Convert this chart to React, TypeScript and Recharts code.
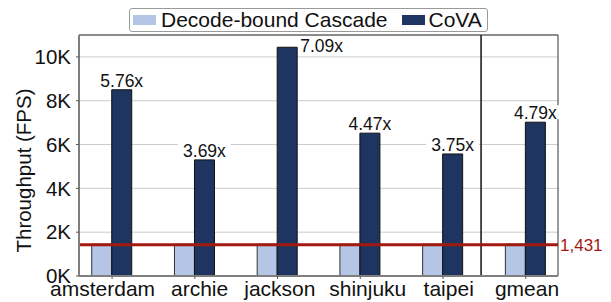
import React from 'react';
import { BarChart, Bar, XAxis, YAxis, CartesianGrid, ReferenceLine, LabelList, Legend } from 'recharts';

const categories = ['amsterdam', 'archie', 'jackson', 'shinjuku', 'taipei', 'gmean'];
const decodeBound = [1450, 1450, 1450, 1450, 1450, 1450];
const cova = [8500, 5300, 10440, 6520, 5570, 7020];
const speedups = ['5.76x', '3.69x', '7.09x', '4.47x', '3.75x', '4.79x'];
const yTicks = [0, 2000, 4000, 6000, 8000, 10000];
const seriesNames = ['Decode-bound Cascade', 'CoVA'];
const baselineValue = 1431;
const baselineLabel = '1,431';
const separatorAt = 4.46;
const xDomain = [-0.4, 5.39];
const yDomain = [0, 11000];

// small horizontal nudges of category labels (style only)
const tickNudge = [-9.5, 4.8, 2.3, 7.5, 5.7, 1.3];

const LIGHT = '#b4c5e6';
const DARK = '#1e3561';
const RED = '#a2190f';
const FONT = '"Liberation Sans", Arial, Helvetica, sans-serif';
const M = { top: 35, right: 53, bottom: 0, left: 0 };

const data = categories.map((c, i) => ({
  idx: i,
  name: c,
  decode: decodeBound[i],
  cova: cova[i],
  speedup: speedups[i],
}));

const renderSpeedup = (props: any) => {
  const x = Number(props.x);
  const y = Number(props.y);
  const width = Number(props.width);
  const value = String(props.value);
  const fs = 17.5;
  const w = value.length * fs * 0.49;
  if (y - fs - 4 < M.top) {
    return (
      <text x={x + width + 3} y={y - 1.5} fontSize={fs} fontFamily={FONT} fill="#111" dominantBaseline="central">
        {value}
      </text>
    );
  }
  const cx = x + width / 2;
  return (
    <g>
      <rect x={cx - w / 2 - 5} y={y - 3 - fs * 0.8} width={w + 10} height={fs * 0.8} fill="#fff" />
      <text x={cx} y={y - 3} fontSize={fs} fontFamily={FONT} fill="#111" textAnchor="middle">
        {value}
      </text>
    </g>
  );
};

const CategoryTick = (props: any) => {
  const { x, y, payload } = props;
  const i = Number(payload.value);
  return (
    <text
      x={Number(x) + (tickNudge[i] || 0)}
      y={Number(y)}
      dy="0.71em"
      textAnchor="middle"
      fontSize={21}
      fontFamily={FONT}
      fill="#111"
    >
      {categories[i]}
    </text>
  );
};

const renderYLabel = (props: any) => {
  const vb = props && props.viewBox ? props.viewBox : { x: 0, y: 35, width: 79, height: 241 };
  const cx = vb.x + 31;
  const cy = vb.y + vb.height / 2 + 15;
  return (
    <text x={cx} y={cy} transform={`rotate(-90 ${cx} ${cy})`} textAnchor="middle" fontSize={20.5} fontFamily={FONT} fill="#111">
      Throughput (FPS)
    </text>
  );
};

const LegendBox = () => (
  <div
    style={{
      display: 'inline-flex',
      alignItems: 'center',
      border: '1px solid #9a9a9a',
      borderRadius: 3,
      background: '#fff',
      padding: '0 5px 0 3px',
      height: 22,
      fontFamily: FONT,
      fontSize: 21,
      color: '#111',
      lineHeight: '22px',
      whiteSpace: 'nowrap',
    }}
  >
    <span style={{ display: 'inline-block', width: 23, height: 10, background: LIGHT, marginRight: 5 }} />
    <span>{seriesNames[0]}</span>
    <span style={{ display: 'inline-block', width: 23, height: 10, background: DARK, marginLeft: 14, marginRight: 4 }} />
    <span>{seriesNames[1]}</span>
  </div>
);

export default function App() {
  return (
    <div style={{ position: 'absolute', left: 0, top: 0, width: 611, height: 302, background: '#fff' }}>
      <BarChart width={611} height={302} data={data} margin={M} barGap={0} barSize={20}>
        <CartesianGrid vertical={false} stroke="#cccccc" strokeWidth={1} />
        <XAxis
          dataKey="idx"
          type="number"
          domain={xDomain}
          ticks={[0, 1, 2, 3, 4, 5]}
          interval={0}
          height={26}
          tickSize={3}
          tickMargin={2}
          axisLine={{ stroke: '#7f7f7f', strokeWidth: 2 }}
          tickLine={{ stroke: '#555' }}
          tick={<CategoryTick />}
          allowDataOverflow
        />
        <YAxis
          type="number"
          domain={yDomain}
          ticks={yTicks}
          interval={0}
          width={79}
          tickFormatter={(v: number) => `${v / 1000}K`}
          tickSize={3}
          tickMargin={5}
          axisLine={{ stroke: '#7f7f7f', strokeWidth: 2 }}
          tickLine={{ stroke: '#555' }}
          tick={{ fontSize: 20.5, fontFamily: FONT, fill: '#111' }}
          label={renderYLabel}
          allowDataOverflow
        />
        <Legend
          layout="horizontal"
          verticalAlign="middle"
          align="center"
          content={<LegendBox />}
          wrapperStyle={{ position: 'absolute', top: 8, left: 129, width: 'auto', height: 24 }}
        />
        <Bar dataKey="decode" name={seriesNames[0]} fill={LIGHT} stroke="#333" strokeWidth={1} isAnimationActive={false} />
        <Bar dataKey="cova" name={seriesNames[1]} fill={DARK} stroke="#111" strokeWidth={1} isAnimationActive={false}>
          <LabelList dataKey="speedup" content={renderSpeedup} />
        </Bar>
        <ReferenceLine x={separatorAt} stroke="#111" strokeWidth={1.5} />
        <ReferenceLine y={yDomain[1]} stroke="#333" strokeWidth={1} />
        <ReferenceLine x={xDomain[1]} stroke="#333" strokeWidth={1} />
        <ReferenceLine
          y={baselineValue}
          stroke={RED}
          strokeWidth={3}
          label={{ value: baselineLabel, position: 'right', fill: RED, fontSize: 17, fontFamily: FONT, offset: 2 }}
        />
      </BarChart>
    </div>
  );
}
